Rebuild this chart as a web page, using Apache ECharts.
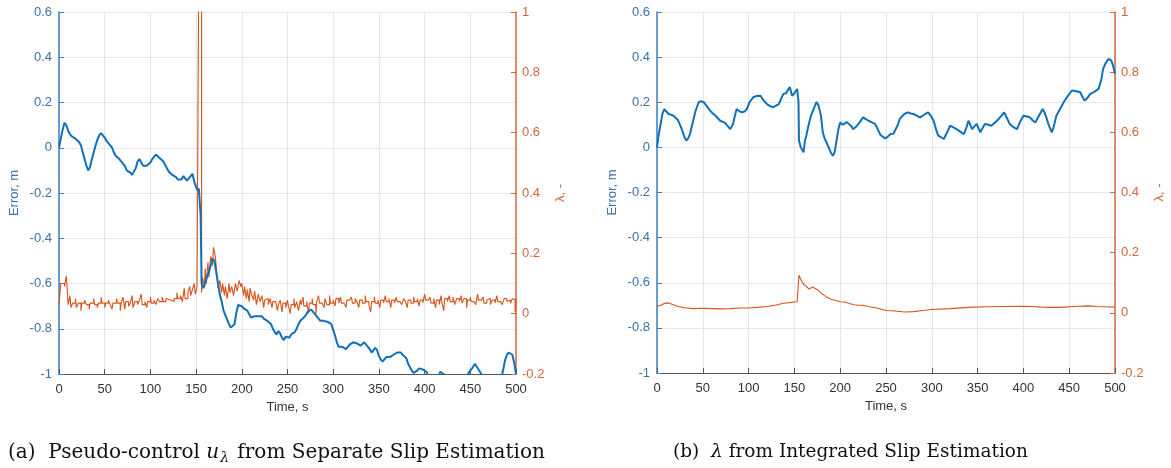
<!DOCTYPE html>
<html>
<head>
<meta charset="utf-8">
<script src="https://cdn.jsdelivr.net/npm/echarts@6/dist/echarts.min.js"></script>
<style>
html,body{margin:0;padding:0;background:#fff;}
#c{width:1171px;height:468px;}
</style>
</head>
<body>
<div id="c"></div>
<script>
// ---------- DATA ----------
var xTicks = {min: 0, max: 500, interval: 50};
var errTicks = {min: -1, max: 0.6, interval: 0.2};
var lamTicks = {min: -0.2, max: 1, interval: 0.2};

// (a) tracking error [time s, error m]
var errA = [
[0,0],[2,0.04],[4,0.08],[6,0.11],[7,0.115],[8,0.1],[10,0.075],[12,0.06],[14,0.05],[16,0.045],[18,0.04],
[20,0.035],[22,0.025],[24,0.01],[26,-0.02],[28,-0.05],[30,-0.08],[32,-0.1],[34,-0.085],[36,-0.05],[38,-0.02],
[40,0.01],[42,0.035],[44,0.055],[46,0.065],[48,0.055],[50,0.045],[52,0.03],[54,0.02],[56,0.01],[58,0.0],
[60,-0.02],[62,-0.035],[64,-0.04],[66,-0.05],[68,-0.06],[70,-0.065],[72,-0.08],[74,-0.1],[76,-0.105],[78,-0.11],
[80,-0.12],[82,-0.115],[84,-0.09],[86,-0.06],[88,-0.05],[90,-0.065],[92,-0.08],[94,-0.085],[96,-0.08],[98,-0.075],
[100,-0.065],[102,-0.05],[104,-0.04],[106,-0.03],[108,-0.035],[110,-0.045],[112,-0.05],[114,-0.06],[116,-0.075],[118,-0.09],
[120,-0.105],[122,-0.11],[124,-0.12],[126,-0.125],[128,-0.13],[130,-0.14],[132,-0.145],[134,-0.14],[136,-0.125],[138,-0.13],
[140,-0.145],[142,-0.14],[144,-0.125],[146,-0.115],[148,-0.15],[150,-0.175],[152,-0.19],[153,-0.18],[154,-0.175],[155,-0.3],
[156,-0.6],[158,-0.62],[160,-0.6],[162,-0.57],[164,-0.55],[166,-0.52],[168,-0.49],[170,-0.5],[172,-0.55],[174,-0.6],
[176,-0.65],[178,-0.68],[180,-0.72],[182,-0.74],[184,-0.76],[186,-0.78],[188,-0.795],[190,-0.8],[192,-0.78],[194,-0.73],
[196,-0.695],[198,-0.69],[200,-0.7],[202,-0.71],[204,-0.705],[206,-0.72],[208,-0.735],[210,-0.75],[212,-0.755],[214,-0.745],
[216,-0.75],[218,-0.745],[220,-0.75],[222,-0.745],[224,-0.755],[226,-0.76],[228,-0.765],[230,-0.77],[232,-0.78],[234,-0.8],
[236,-0.815],[238,-0.825],[240,-0.81],[242,-0.82],[244,-0.84],[246,-0.85],[248,-0.835],[250,-0.83],[252,-0.84],[254,-0.825],
[256,-0.82],[258,-0.815],[260,-0.8],[262,-0.78],[264,-0.765],[266,-0.76],[268,-0.75],[270,-0.74],[272,-0.725],[274,-0.72],
[276,-0.715],[278,-0.725],[280,-0.735],[282,-0.745],[284,-0.755],[286,-0.765],[288,-0.76],[290,-0.765],[292,-0.76],[294,-0.77],
[296,-0.765],[298,-0.78],[300,-0.805],[302,-0.83],[304,-0.86],[306,-0.88],[308,-0.885],[310,-0.88],[312,-0.875],[314,-0.89],
[316,-0.88],[318,-0.87],[320,-0.865],[322,-0.86],[324,-0.855],[326,-0.865],[328,-0.86],[330,-0.875],[332,-0.87],[334,-0.86],
[336,-0.87],[338,-0.875],[340,-0.89],[342,-0.905],[344,-0.895],[346,-0.885],[348,-0.895],[350,-0.92],[352,-0.935],[354,-0.945],
[356,-0.935],[358,-0.925],[360,-0.93],[362,-0.925],[364,-0.92],[366,-0.915],[368,-0.91],[370,-0.905],[372,-0.91],[374,-0.905],
[376,-0.915],[378,-0.91],[380,-0.93],[382,-0.955],[384,-0.97],[386,-0.985],[388,-0.995],[390,-1.0],[392,-0.985],[394,-0.975],
[396,-0.97],[398,-0.98],[400,-0.975],[402,-0.99],[404,-1.01],[406,-1.03],[408,-1.05],[410,-1.06],[414,-1.03],[417,-0.99],
[419,-0.985],[421,-1.0],[423,-1.03],[430,-1.07],[440,-1.04],[446,-1.01],[449,-0.99],[452,-0.975],[455,-0.955],[457,-0.96],
[459,-0.98],[462,-1.0],[466,-1.03],[475,-1.06],[484,-1.02],[486,-0.98],[488,-0.94],[490,-0.915],[492,-0.905],[494,-0.91],
[496,-0.915],[498,-0.95],[500,-1.0]
];

// (a) pseudo-control u_lambda, held values [switch time s, value] (stairs)
var uLamA = [
[0,0.03],[2,0.10],[6,0.09],[8,0.125],[10,0.03],[12,0.06],[13,0.02],[15,0.035],[18,0.05],[19,0.02],[21,0.035],[24,0.01],
[25,0.035],[28,0.045],[30,0.03],[33,0.015],[34,0.035],[38,0.05],[39,0.03],[42,0.02],[43,0.035],[46,0.055],[47,0.035],
[50,0.02],[51,0.035],[54,0.045],[56,0.03],[58,0.015],[59,0.035],[63,0.05],[64,0.035],[67,0.01],[68,0.035],[70,0.055],
[72,0.015],[73,0.04],[76,0.025],[78,0.035],[80,0.06],[81,0.02],[83,0.04],[86,0.03],[88,0.045],[90,0.065],[91,0.03],
[94,0.04],[96,0.02],[97,0.04],[100,0.055],[101,0.035],[104,0.045],[106,0.03],[108,0.05],[110,0.04],[113,0.055],[114,0.04],
[117,0.05],[119,0.045],[122,0.05],[124,0.04],[126,0.05],[129,0.07],[130,0.05],[133,0.06],[135,0.04],[137,0.085],[138,0.05],
[141,0.07],[143,0.09],[144,0.06],[146,0.08],[148,0.1],[149,0.065],[151,0.09],[153,1.2],[156,0.07],[157,0.12],[159,0.09],
[160,0.15],[161,0.1],[163,0.17],[164,0.12],[166,0.19],[168,0.16],[169,0.22],[171,0.19],[173,0.12],[174,0.085],[176,0.11],
[178,0.07],[179,0.1],[181,0.06],[182,0.09],[184,0.05],[186,0.1],[187,0.07],[189,0.09],[191,0.06],[193,0.1],[195,0.075],
[197,0.11],[199,0.09],[200,0.1],[202,0.06],[203,0.09],[205,0.05],[206,0.08],[208,0.04],[209,0.085],[211,0.06],[213,0.045],
[214,0.075],[216,0.03],[218,0.065],[220,0.04],[222,0.06],[224,0.02],[225,0.045],[227,0.05],[229,0.03],[231,0.05],[233,0.02],
[234,0.04],[237,0.035],[239,0.01],[240,0.03],[242,0.045],[244,0.005],[245,0.035],[248,0.02],[250,0.045],[251,0.025],
[253,0.0],[254,0.03],[257,0.05],[258,0.02],[260,0.04],[262,0.01],[264,0.045],[265,0.03],[267,0.055],[268,0.025],[271,0.04],
[273,0.0],[274,0.035],[277,0.05],[278,0.03],[281,-0.005],[282,0.04],[284,0.06],[285,0.035],[288,0.04],[290,0.02],[291,0.05],
[293,0.03],[296,0.06],[297,0.035],[300,0.045],[302,0.025],[303,0.05],[306,0.035],[308,0.055],[309,0.035],[312,0.04],
[314,0.02],[315,0.045],[318,0.04],[320,0.055],[321,0.035],[324,0.05],[326,0.04],[328,0.02],[329,0.045],[332,0.035],
[335,0.06],[336,0.04],[339,0.03],[341,0.005],[342,0.04],[345,0.055],[346,0.035],[349,0.045],[351,0.02],[352,0.045],
[355,0.035],[357,0.06],[358,0.04],[361,0.05],[363,0.02],[364,0.045],[367,0.035],[369,0.055],[370,0.04],[373,0.045],
[375,0.03],[377,0.05],[379,0.04],[381,0.02],[382,0.045],[385,0.035],[388,0.055],[389,0.04],[392,0.05],[394,0.025],
[395,0.045],[398,0.035],[400,0.065],[401,0.045],[404,0.04],[406,0.055],[407,0.035],[410,0.05],[412,0.02],[413,0.045],
[416,0.03],[418,0.06],[419,0.035],[421,0.01],[422,0.05],[425,0.04],[427,0.06],[428,0.04],[431,0.055],[433,0.03],[435,0.05],
[438,0.04],[440,0.06],[441,0.035],[443,0.05],[446,0.02],[447,0.045],[450,0.055],[451,0.04],[454,0.045],[456,0.03],
[458,0.065],[459,0.045],[462,0.04],[464,0.055],[465,0.035],[468,0.045],[470,0.05],[472,0.03],[474,0.045],[477,0.035],
[479,0.06],[480,0.04],[483,0.045],[485,0.03],[487,0.05],[490,0.04],[492,0.045],[494,0.035],[496,0.05],[498,0.045],
[499,0.005],[500,0.05]
];

// (b) tracking error [time s, error m]
var errB = [
[0,0],[2,0.06],[3.6,0.096],[6,0.15],[8,0.17],[10,0.16],[12.7,0.148],[15,0.145],[18,0.14],[20,0.14],[23,0.12],
[25.5,0.096],[28,0.07],[30,0.045],[32,0.03],[34,0.04],[36,0.059],[39,0.11],[42,0.16],[45.5,0.2],[48,0.205],[51,0.2],
[54,0.185],[58,0.163],[61,0.15],[64,0.14],[66,0.135],[69,0.118],[71,0.12],[74,0.11],[77,0.095],[80,0.081],[83,0.104],
[85,0.14],[87,0.17],[90,0.16],[93,0.155],[96,0.16],[98,0.17],[101,0.2],[105,0.222],[109,0.228],[113,0.229],[116,0.21],
[120,0.192],[124,0.182],[127,0.178],[130,0.185],[133,0.192],[136,0.22],[138,0.237],[141,0.24],[143,0.255],[145,0.267],
[147.5,0.229],[150,0.24],[153,0.259],[154.5,0.2],[155,0.03],[157,0.0],[160,-0.022],[161.5,0.03],[163,0.052],[165,0.09],
[168,0.14],[171,0.17],[174,0.2],[176,0.19],[177.5,0.185],[179,0.14],[181,0.067],[183,0.04],[185,0.022],[188,-0.005],
[190,-0.025],[192,-0.037],[194,-0.02],[196,0.03],[198,0.08],[200,0.11],[203,0.1],[205,0.104],[207,0.112],[209,0.118],
[212,0.095],[214,0.081],[217,0.09],[220,0.104],[222,0.11],[225,0.133],[228,0.125],[231,0.118],[234,0.112],[238,0.104],
[241,0.08],[244,0.055],[246,0.06],[249,0.04],[252,0.048],[255,0.059],[258,0.06],[260,0.067],[263,0.1],[265,0.126],
[268,0.14],[271,0.15],[274,0.155],[277,0.15],[280,0.148],[284,0.14],[287,0.133],[290,0.14],[293,0.148],[296,0.155],
[299,0.14],[302,0.118],[305,0.075],[307,0.052],[310,0.045],[313,0.037],[316,0.06],[320,0.096],[323,0.09],[327,0.081],
[331,0.07],[335,0.059],[338,0.09],[340,0.118],[342,0.1],[344,0.081],[347,0.095],[349,0.104],[351,0.085],[353,0.067],
[356,0.09],[358,0.104],[362,0.1],[365,0.096],[369,0.11],[373,0.126],[376,0.14],[379,0.155],[382,0.13],[385,0.104],
[389,0.09],[393,0.081],[396,0.11],[400,0.14],[404,0.137],[407,0.133],[410,0.12],[413,0.11],[417,0.14],[421,0.17],
[423,0.155],[425,0.133],[428,0.095],[431,0.067],[433,0.09],[436,0.14],[440,0.17],[444,0.2],[448,0.225],[453,0.252],
[457,0.25],[462,0.244],[465,0.22],[467,0.207],[470,0.22],[473,0.237],[477,0.245],[482,0.259],[485,0.3],[487,0.348],
[490,0.375],[493,0.392],[496,0.385],[498,0.36],[500,0.326]
];

// (b) slip lambda [time s, lambda]
var lamB = [
[0,0.022],[4,0.025],[8,0.031],[11,0.033],[14,0.031],[18,0.027],[22,0.022],[30,0.017],[40,0.014],[50,0.015],
[60,0.014],[70,0.013],[80,0.014],[90,0.016],[92,0.019],[95,0.016],[100,0.016],[110,0.018],[120,0.021],[130,0.026],
[138,0.032],[145,0.034],[150,0.036],[153,0.037],[154,0.04],[155,0.125],[157,0.11],[160,0.095],[163,0.088],[166,0.079],
[168,0.08],[170,0.086],[172,0.084],[175,0.077],[180,0.064],[185,0.053],[190,0.045],[195,0.041],[200,0.037],[205,0.036],
[210,0.031],[215,0.027],[220,0.025],[225,0.025],[230,0.021],[240,0.016],[250,0.008],[260,0.006],[270,0.003],[280,0.004],
[290,0.008],[300,0.011],[320,0.014],[340,0.018],[360,0.02],[380,0.021],[400,0.022],[410,0.021],[420,0.019],[430,0.018],
[440,0.018],[460,0.022],[470,0.023],[480,0.021],[490,0.02],[500,0.019]
];

// ---------- STYLE ----------
var BLUE = '#1170b8', BLUE_AX = '#3b7fc0', BLUE_TXT = '#3a72ab';
var ORANGE = '#D95319', OR_AX = '#d8693a', OR_TXT = '#d0673b';
var GRID_C = '#e4e8ee';
var SANS = '"Liberation Sans", Arial, Helvetica, sans-serif';
var SERIF = '"DejaVu Serif", "Liberation Serif", serif';

function fmt(v){ return String(+v.toFixed(1)); }

function xAxisCfg(gi){
  return {
    type:'value', gridIndex:gi, min:xTicks.min, max:xTicks.max, interval:xTicks.interval,
    name:'Time, s', nameLocation:'middle', nameGap:27,
    nameTextStyle:{color:'#333', fontSize:13, fontFamily:SANS},
    axisLine:{show:true, onZero:false, lineStyle:{color:'#555', width:1}},
    axisTick:{show:true, inside:true, length:5, lineStyle:{color:'#555'}},
    axisLabel:{color:'#333', fontSize:13, fontFamily:SANS, margin:9},
    splitLine:{show:true, lineStyle:{color:GRID_C, width:1}}
  };
}
function errAxis(gi){
  return {
    type:'value', gridIndex:gi, position:'left', min:errTicks.min, max:errTicks.max, interval:errTicks.interval,
    name:'Error, m', nameLocation:'middle', nameGap:38,
    nameTextStyle:{color:BLUE_TXT, fontSize:13, fontFamily:SANS},
    axisLine:{show:true, onZero:false, lineStyle:{color:BLUE_AX, width:1.5}},
    axisTick:{show:true, inside:true, length:5, lineStyle:{color:BLUE_AX}},
    axisLabel:{color:BLUE_TXT, fontSize:13, fontFamily:SANS, margin:7, formatter:fmt},
    splitLine:{show:true, lineStyle:{color:GRID_C, width:1}}
  };
}
function lamAxis(gi){
  return {
    type:'value', gridIndex:gi, position:'right', min:lamTicks.min, max:lamTicks.max, interval:lamTicks.interval,
    name:'λ, -', nameLocation:'middle', nameGap:38,
    nameTextStyle:{color:OR_TXT, fontSize:13, fontFamily:SANS},
    axisLine:{show:true, onZero:false, lineStyle:{color:OR_AX, width:1.5}},
    axisTick:{show:true, inside:true, length:5, lineStyle:{color:OR_AX}},
    axisLabel:{color:OR_TXT, fontSize:13, fontFamily:SANS, margin:6, formatter:fmt},
    splitLine:{show:false}
  };
}

function capRich(fs){
  return {
    n:{fontFamily:SERIF, fontSize:fs, fontWeight:'normal', color:'#111'},
    i:{fontFamily:SERIF, fontSize:fs, fontWeight:'normal', fontStyle:'italic', color:'#111'},
    s:{fontFamily:SERIF, fontSize:Math.round(fs*0.68), fontWeight:'normal', fontStyle:'italic', color:'#111', padding:[Math.round(fs*0.5),2,0,1]}
  };
}

var chart = echarts.init(document.getElementById('c'), null, {renderer:'canvas'});
chart.setOption({
  animation:false,
  backgroundColor:'#ffffff',
  title:[
    {left:8, top:441, padding:0, text:'{n|(a)  Pseudo-control }{i|u}{s|λ}{n| from Separate Slip Estimation}',
     textStyle:{fontWeight:'normal', rich:capRich(20)}},
    {left:673, top:443, padding:0, text:'{n|(b)  }{i|λ}{n| from Integrated Slip Estimation}',
     textStyle:{fontWeight:'normal', rich:capRich(18.5)}}
  ],
  grid:[
    {left:59, right:655, top:12, bottom:94},
    {left:657, right:56, top:12, bottom:95}
  ],
  xAxis:[xAxisCfg(0), xAxisCfg(1)],
  yAxis:[errAxis(0), lamAxis(0), errAxis(1), lamAxis(1)],
  series:[
    {type:'line', name:'uLam', xAxisIndex:0, yAxisIndex:1, data:uLamA, step:'end', showSymbol:false,
     clip:true, lineStyle:{color:ORANGE, width:1.1}, z:2},
    {type:'line', name:'errA', xAxisIndex:0, yAxisIndex:0, data:errA, showSymbol:false,
     clip:true, lineStyle:{color:BLUE, width:2}, z:3},
    {type:'line', name:'errB', xAxisIndex:1, yAxisIndex:2, data:errB, showSymbol:false,
     clip:true, lineStyle:{color:BLUE, width:2}, z:3},
    {type:'line', name:'lamB', xAxisIndex:1, yAxisIndex:3, data:lamB, showSymbol:false,
     clip:true, lineStyle:{color:ORANGE, width:1.1}, z:2}
  ]
});
</script>
</body>
</html>
